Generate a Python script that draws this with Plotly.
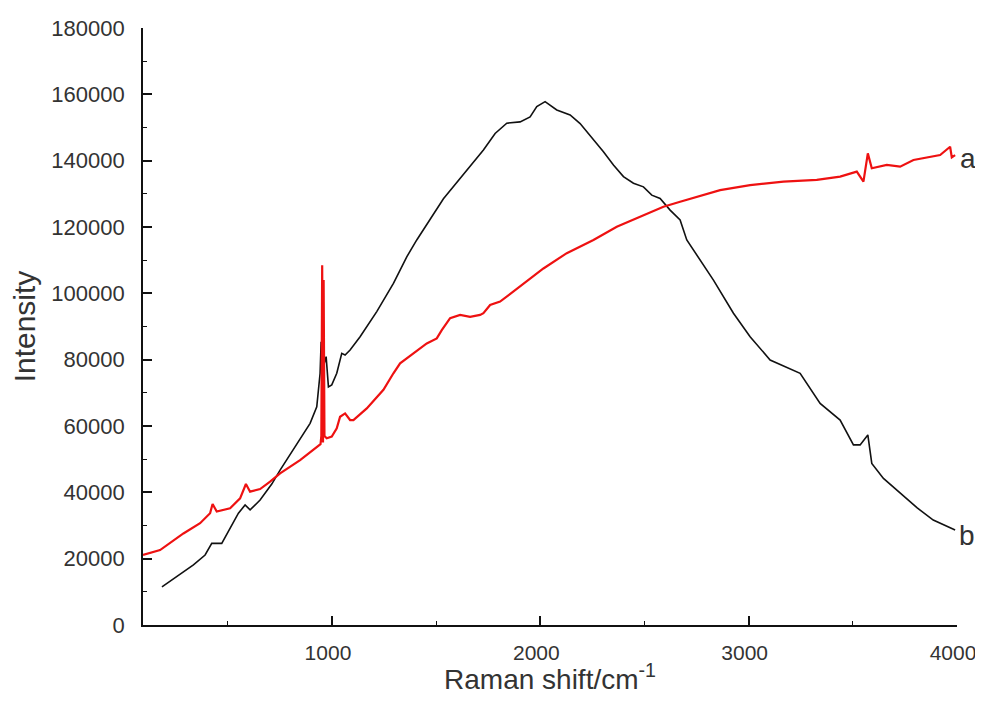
import plotly.graph_objects as go

# Curve b (black)
black_x = [184, 255, 335, 391, 423, 471, 511, 551, 583, 607, 655, 711, 751, 815, 895, 927,
           943, 948, 952, 972, 983, 999, 1023, 1047, 1063, 1087, 1135, 1215, 1295, 1359, 1407,
           1535, 1663, 1727, 1783, 1839, 1903, 1951, 1983, 2023, 2079, 2143, 2191, 2239, 2303,
           2351, 2399, 2447, 2495, 2535, 2575, 2623, 2671, 2703, 2767, 2831, 2927, 3007, 3103,
           3247, 3343, 3439, 3503, 3535, 3572, 3591, 3647, 3727, 3809, 3886, 3991]
black_y = [11500, 14600, 18100, 21100, 24600, 24600, 29100, 33700, 36200, 34700, 37700, 42500,
           46700, 52800, 60800, 65800, 75900, 85400, 76400, 80900, 71800, 72400, 75900, 81900,
           81400, 82900, 86900, 94500, 103000, 111000, 116100, 128500, 138200, 143200, 148200,
           151300, 151700, 153200, 156300, 157800, 155300, 153800, 151200, 147700, 142700,
           138700, 135200, 133200, 132100, 129600, 128600, 125100, 122100, 116100, 110000,
           104000, 94000, 86900, 79900, 75900, 66800, 61800, 54300, 54300, 57300, 48700,
           44200, 39700, 35300, 31650, 28640]

# Curve a (red)
red_x = [93, 175, 287, 367, 415, 427, 447, 511, 559, 587, 607, 655, 703, 751, 847, 935, 945,
         949, 953, 957, 960, 964, 975, 999, 1023, 1039, 1063, 1087, 1103, 1167, 1247, 1295,
         1327, 1391, 1455, 1503, 1527, 1567, 1615, 1663, 1711, 1727, 1759, 1807, 1903, 2015,
         2127, 2255, 2367, 2495, 2591, 2671, 2783, 2863, 3007, 3167, 3327, 3439, 3519, 3551,
         3572, 3591, 3663, 3727, 3791, 3919, 3967, 3975, 3991]
red_y = [21100, 22600, 27600, 30700, 33700, 36500, 34200, 35200, 38200, 42500, 40200, 41000,
         43200, 45700, 49700, 53800, 54500, 57000, 108500, 55000, 104000, 57000, 56300, 56800,
         59300, 62800, 63800, 61800, 61800, 65300, 70900, 75900, 78900, 81900, 84900, 86400,
         88900, 92500, 93500, 92900, 93500, 94000, 96500, 97500, 102000, 107500, 112100,
         116100, 120100, 123600, 126100, 127600, 129600, 131100, 132600, 133700, 134200,
         135200, 136700, 133700, 142200, 137700, 138700, 138200, 140200, 141700, 144200,
         141000, 141700]

x_ticks = [1000, 2000, 3000, 4000]
y_ticks = list(range(0, 180001, 20000))

font_family = "Liberation Sans, Arial, sans-serif"

fig = go.Figure()
fig.add_trace(go.Scatter(x=black_x, y=black_y, mode="lines",
                         line=dict(color="#111111", width=1.6), name="b"))
fig.add_trace(go.Scatter(x=red_x, y=red_y, mode="lines",
                         line=dict(color="#ee1111", width=2.2), name="a"))

fig.add_annotation(x=3995, y=140800, text="a", showarrow=False, xanchor="left",
                   xshift=2, font=dict(size=28, color="#333333", family=font_family))
fig.add_annotation(x=3995, y=27100, text="b", showarrow=False, xanchor="left",
                   xshift=1, font=dict(size=28, color="#333333", family=font_family))

fig.update_layout(
    width=967, height=687,
    margin=dict(l=135, r=18, t=20, b=70, autoexpand=False),
    paper_bgcolor="white", plot_bgcolor="white",
    showlegend=False,
    font=dict(family=font_family, color="#333333"),
    xaxis=dict(
        range=[93, 4000], tickvals=x_ticks, ticktext=[str(v) for v in x_ticks],
        showline=True, linecolor="#111111", linewidth=1.8,
        ticks="inside", ticklen=9, tickwidth=1.6, tickcolor="#111111",
        minor=dict(ticks="inside", ticklen=4, tickwidth=1.4, tickcolor="#111111",
                   tickvals=[500, 1500, 2500, 3500]),
        showgrid=False, zeroline=False, automargin=False,
        tickfont=dict(size=21, color="#333333"),
        ticklabelstandoff=8, ticklabelshift=-4, ticklabeloverflow="allow",
        title=dict(text="Raman shift/cm<sup>-1</sup>", font=dict(size=28, color="#333333"),
                   standoff=17),
    ),
    yaxis=dict(
        range=[0, 180000], tickvals=y_ticks, ticktext=[str(v) for v in y_ticks],
        showline=True, linecolor="#111111", linewidth=1.8,
        ticks="inside", ticklen=9, tickwidth=1.6, tickcolor="#111111",
        minor=dict(ticks="inside", ticklen=4, tickwidth=1.4, tickcolor="#111111",
                   tickvals=list(range(10000, 180000, 20000))),
        showgrid=False, zeroline=False, automargin=False,
        tickfont=dict(size=22, color="#333333"),
        ticklabelstandoff=12,
        title=dict(text="Intensity", font=dict(size=30, color="#333333"), standoff=8),
    ),
)

fig.write_html("out.html")
